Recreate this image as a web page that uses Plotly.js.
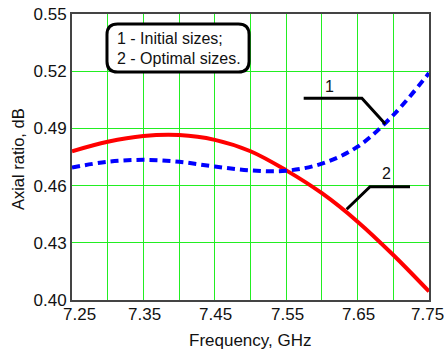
<!DOCTYPE html>
<html>
<head>
<meta charset="utf-8">
<script src="https://cdn.plot.ly/plotly-3.0.1.min.js"></script>
<style>html,body{margin:0;padding:0;background:#fff;}#chart{width:444px;height:352px;}</style>
</head>
<body>
<div id="chart"></div>
<script>
const freq = [7.25, 7.30, 7.35, 7.40, 7.45, 7.50, 7.55, 7.60, 7.65, 7.70, 7.75];
const initialSizes = [0.4695, 0.4725, 0.4735, 0.4725, 0.4700, 0.4680, 0.4678, 0.4715, 0.4804, 0.4970, 0.5190];
const optimalSizes = [0.4780, 0.4830, 0.4860, 0.4865, 0.4840, 0.4780, 0.4680, 0.4560, 0.4411, 0.4236, 0.4045];
const xGridVals = [7.25, 7.30, 7.35, 7.40, 7.45, 7.50, 7.55, 7.60, 7.65, 7.70, 7.75];
const xLabelVals = [7.25, 7.35, 7.45, 7.55, 7.65, 7.75];
const xLabelText = ['7.25', '7.35', '7.45', '7.55', '7.65', '7.75'];
const yTickVals = [0.40, 0.43, 0.46, 0.49, 0.52, 0.55];
const yTickText = ['0.40', '0.43', '0.46', '0.49', '0.52', '0.55'];
const legendLines = ['1 - Initial sizes;', '2 - Optimal sizes.'];
const curveLabels = ['1', '2'];
const xTitle = 'Frequency, GHz';
const yTitle = 'Axial ratio, dB';

const font = 'Arial, "Liberation Sans", sans-serif';
const txt = '#111';

const traces = [
  {x: freq, y: optimalSizes, mode: 'lines', line: {color: '#ff0000', width: 4, shape: 'spline'}, hoverinfo: 'skip'},
  {x: freq, y: initialSizes, mode: 'lines', line: {color: '#0000ff', width: 4, shape: 'spline', dash: '8px,5px'}, hoverinfo: 'skip'}
];

// rounded legend box in paper coords
const bx0 = 0.098, bx1 = 0.496, by0 = 0.797, by1 = 0.965, rx = 0.03, ry = 0.037;
const boxPath = `M ${bx0+rx},${by1} L ${bx1-rx},${by1} Q ${bx1},${by1} ${bx1},${by1-ry} L ${bx1},${by0+ry} Q ${bx1},${by0} ${bx1-rx},${by0} L ${bx0+rx},${by0} Q ${bx0},${by0} ${bx0},${by0+ry} L ${bx0},${by1-ry} Q ${bx0},${by1} ${bx0+rx},${by1} Z`;

const annotations = [
  {xref: 'paper', yref: 'paper', x: 0.121, y: 0.913, xanchor: 'left', yanchor: 'middle', text: legendLines[0], showarrow: false, font: {size: 16, family: font, color: txt}},
  {xref: 'paper', yref: 'paper', x: 0.121, y: 0.843, xanchor: 'left', yanchor: 'middle', text: legendLines[1], showarrow: false, font: {size: 16, family: font, color: txt}},
  {xref: 'x', yref: 'y', x: 7.6113, y: 0.5122, text: curveLabels[0], showarrow: false, font: {size: 16, family: font, color: txt}},
  {xref: 'x', yref: 'y', x: 7.6908, y: 0.4664, text: curveLabels[1], showarrow: false, font: {size: 16, family: font, color: txt}},
  {xref: 'paper', yref: 'paper', x: 0.5, y: -0.14, xanchor: 'center', yanchor: 'middle', text: xTitle, showarrow: false, font: {size: 17, family: font, color: txt}},
  {xref: 'paper', yref: 'paper', x: -0.151, y: 0.493, xanchor: 'center', yanchor: 'middle', textangle: -90, text: yTitle, showarrow: false, font: {size: 16.5, family: font, color: txt}}
];
xLabelVals.forEach((v, i) => {
  annotations.push({xref: 'x', yref: 'paper', x: v, y: -0.052, xanchor: 'center', yanchor: 'middle',
    xshift: i === 0 ? 7 : (i === xLabelVals.length - 1 ? -2 : 1), text: xLabelText[i], showarrow: false,
    font: {size: 17, family: font, color: txt}});
});

const layout = {
  width: 444, height: 352,
  margin: {l: 72, r: 15, t: 14, b: 52},
  paper_bgcolor: '#fff', plot_bgcolor: '#fff',
  showlegend: false,
  font: {family: font, color: txt},
  xaxis: {
    range: [7.25, 7.75], tickmode: 'array', tickvals: xGridVals, showticklabels: false,
    showgrid: true, gridcolor: '#22ee22', gridwidth: 1, zeroline: false,
    showline: true, linecolor: '#444', linewidth: 2, mirror: true, ticks: ''
  },
  yaxis: {
    range: [0.40, 0.55], tickmode: 'array', tickvals: yTickVals, ticktext: yTickText,
    showgrid: true, gridcolor: '#22ee22', gridwidth: 1, zeroline: false,
    showline: true, linecolor: '#444', linewidth: 2, mirror: true,
    ticks: '', tickfont: {size: 17, family: font, color: txt}
  },
  shapes: [
    {type: 'path', xref: 'paper', yref: 'paper', path: boxPath, fillcolor: '#fff', line: {color: '#000', width: 3}, layer: 'above'},
    {type: 'path', xref: 'x', yref: 'y', path: 'M 7.5745,0.5058 L 7.656,0.5058 L 7.6888,0.4923', line: {color: '#000', width: 3}},
    {type: 'path', xref: 'x', yref: 'y', path: 'M 7.6347,0.4476 L 7.6674,0.4594 L 7.7234,0.4594', line: {color: '#000', width: 3}}
  ],
  annotations: annotations
};

Plotly.newPlot('chart', traces, layout, {displayModeBar: false, staticPlot: true});
</script>
</body>
</html>
